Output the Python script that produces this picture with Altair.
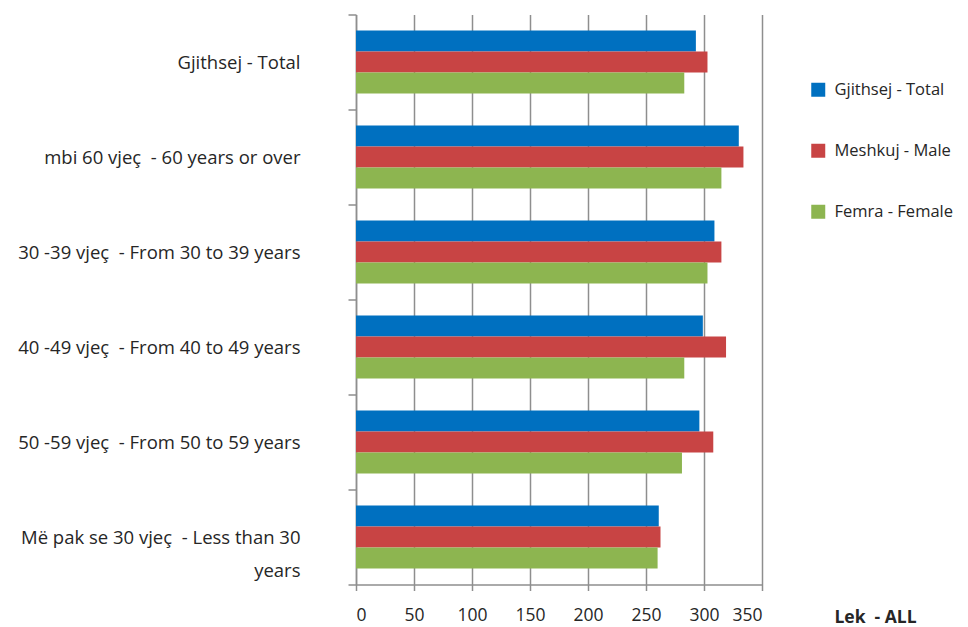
import altair as alt
import pandas as pd

categories = [
    "Gjithsej - Total",
    "mbi 60 vjeç  - 60 years or over",
    "30 -39 vjeç  - From 30 to 39 years",
    "40 -49 vjeç  - From 40 to 49 years",
    "50 -59 vjeç  - From 50 to 59 years",
    "Më pak se 30 vjeç  - Less than 30 years",
]
series = ["Gjithsej - Total", "Meshkuj - Male", "Femra - Female"]
total = [293, 330, 309, 299, 296, 261]
male = [303, 334, 315, 319, 308, 262.5]
female = [283, 315, 303, 283, 281, 260]
colors = ["#0070C0", "#C84444", "#8DB550"]
x_ticks = [0, 50, 100, 150, 200, 250, 300, 350]

rows = []
for i, c in enumerate(categories):
    for s, vals in zip(series, [total, male, female]):
        rows.append({"cat": c, "series": s, "value": vals[i]})
df = pd.DataFrame(rows)

FONT = "Open Sans"
TXT = "#262626"
GRID = "#8E8E8E"
FS = 18.5

label_expr = (
    "datum.label == 'Më pak se 30 vjeç  - Less than 30 years' ? "
    "['Më pak se 30 vjeç \u00a0- Less than 30', 'years'] : "
    "replace(datum.label, '  ', ' \u00a0')"
)

chart = alt.Chart(df).mark_bar().encode(
    x=alt.X(
        "value:Q",
        scale=alt.Scale(domain=[0, 350], nice=False),
        axis=alt.Axis(
            values=x_ticks,
            title="Lek \u00a0- ALL",
            titleFont=FONT,
            titleFontSize=17.5,
            titleFontWeight="bold",
            titleColor=TXT,
            titleX=519,
            titleY=33,
            titleAlign="center",
            titleBaseline="middle",
            titleAngle=0,
            labelFont=FONT,
            labelFontSize=17.5,
            labelColor=TXT,
            labelPadding=16,
            tickSize=6,
            tickColor=GRID,
            tickWidth=1.5,
            domainColor=GRID,
            domainWidth=1.5,
            grid=True,
            gridColor=GRID,
            gridWidth=1.5,
        ),
    ),
    y=alt.Y(
        "cat:N",
        sort=categories,
        scale=alt.Scale(paddingInner=0, paddingOuter=0),
        axis=alt.Axis(
            title=None,
            labelExpr=label_expr,
            labelFont=FONT,
            labelFontSize=FS,
            labelColor=TXT,
            labelLineHeight=33,
            labelPadding=48,
            labelLimit=400,
            tickBand="extent",
            tickSize=8,
            tickColor=GRID,
            tickWidth=1.5,
            domainColor=GRID,
            domainWidth=1.5,
        ),
    ),
    yOffset=alt.YOffset(
        "series:N",
        sort=series,
        scale=alt.Scale(paddingInner=0, paddingOuter=0.762),
    ),
    color=alt.Color(
        "series:N",
        sort=series,
        scale=alt.Scale(domain=series, range=colors),
        legend=alt.Legend(
            title=None,
            orient="none",
            legendX=454,
            legendY=67,
            padding=0,
            symbolType="square",
            symbolSize=196,
            symbolStrokeWidth=0,
            labelFont=FONT,
            labelFontSize=16.5,
            labelColor=TXT,
            labelOffset=8,
            labelLimit=300,
            rowPadding=44,
        ),
    ),
).properties(
    width=406,
    height=570,
    autosize=alt.AutoSizeParams(type="none"),
    padding={"left": 348, "top": 6.5, "right": 198, "bottom": 50},
).configure_view(stroke=None)

chart.save("out.html", embed_options={"renderer": "svg", "actions": False})
